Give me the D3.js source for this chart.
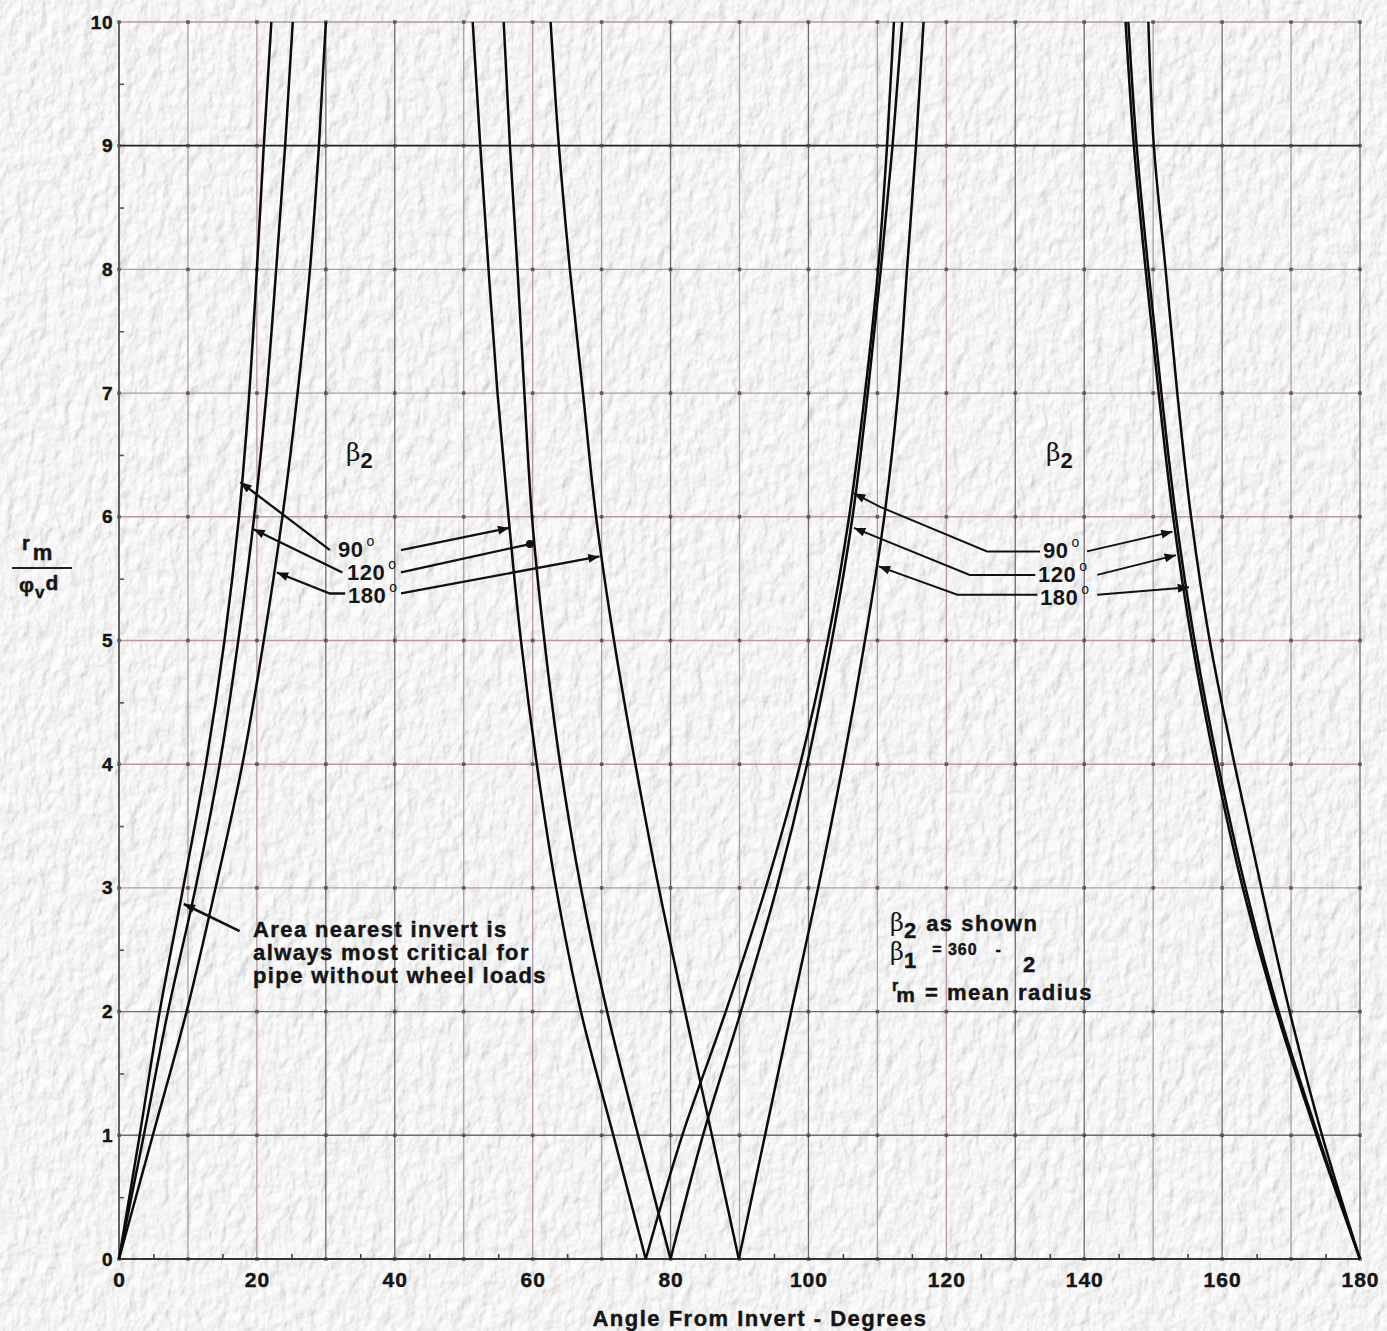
<!DOCTYPE html>
<html>
<head>
<meta charset="utf-8">
<script src="https://cdnjs.cloudflare.com/ajax/libs/d3/7.8.5/d3.min.js"></script>
<style>
body{margin:0;background:#ececec;}
#canvas{width:1387px;height:1331px;}
text{font-family:"Liberation Sans",Arial,Helvetica,sans-serif;fill:#151515;}
.bold{font-weight:bold;stroke:#151515;stroke-width:0.45px;}
</style>
</head>
<body>
<div id="canvas" class="canvas"></div>
<script>
// rm/(phi_v d) levels and the angle (deg) where each curve crosses them
var levels = [0,1,2,3,4,5,6,7,8,9,10];

// beta2 = 90, 120, 180 -- branch rising from the invert
var rise90  = [0, 3.0, 5.9, 9.3, 12.6, 15.3, 17.4, 18.9, 20.0, 21.0, 22.1];
var rise120 = [0, 3.6, 7.1, 11.1, 14.6, 17.3, 19.6, 21.4, 22.8, 24.1, 25.2];
var rise180 = [0, 4.9, 9.8, 14.0, 17.9, 21.0, 23.7, 25.9, 27.7, 29.0, 30.0];
// branch falling into the V
var fall90  = [76.4, 71.7, 67.0, 63.4, 60.6, 58.3, 56.5, 54.9, 53.6, 52.4, 51.3];
var fall120 = [80.0, 75.3, 70.8, 67.0, 64.0, 61.7, 59.9, 58.8, 57.8, 56.7, 55.8];
var fall180 = [89.9, 86.0, 82.1, 78.3, 74.9, 71.8, 69.2, 67.3, 65.4, 63.8, 62.6];
// branch rising out of the V
var back90  = [76.4, 81.7, 88.0, 93.8, 98.8, 102.8, 105.9, 108.2, 110.1, 111.4, 112.4];
var back120 = [80.0, 84.7, 90.2, 95.4, 99.8, 103.4, 106.4, 108.6, 110.5, 112.2, 113.6];
var back180 = [89.9, 93.7, 97.5, 101.4, 105.0, 108.2, 111.0, 113.0, 114.3, 115.6, 116.7];
// branch falling to the crown
var end90  = [180, 173.7, 167.9, 163.0, 159.0, 155.6, 152.9, 150.8, 148.9, 147.2, 146.0];
var end120 = [180, 173.9, 168.2, 163.4, 159.4, 156.0, 153.3, 151.2, 149.3, 147.6, 146.4];
var end180 = [180, 174.5, 169.8, 165.7, 161.8, 158.2, 155.5, 153.5, 151.8, 150.1, 149.3];

var xTicks = [0,20,40,60,80,100,120,140,160,180];
var yTicks = [0,1,2,3,4,5,6,7,8,9,10];
var bedding = ['90','120','180'];

// leader lines [angle, value] -- label end first, curve end last
var leadLeftIn  = [[[30.6,5.73],[17.6,6.28]], [[32.4,5.55],[19.5,5.90]], [[32.8,5.38],[30.6,5.38],[22.9,5.55]]];
var leadLeftOut = [[[40.9,5.73],[56.6,5.91]], [[40.9,5.55],[59.6,5.78]], [[40.9,5.38],[69.7,5.68]]];
var leadRightIn = [[[133.6,5.72],[125.9,5.72],[110.4,6.08],[106.6,6.19]], [[132.9,5.53],[123.4,5.53],[106.6,5.91]], [[133.2,5.37],[121.6,5.37],[110.2,5.60]]];
var leadRightOut = [[[140.4,5.72],[152.8,5.88]], [[141.9,5.53],[153.3,5.69]], [[141.9,5.37],[155.2,5.43]]];
var noteArrow = [[17.5,2.65],[9.4,2.87]];

var m = {t:22, r:27, b:72, l:119};
var W = 1387, H = 1331;
var w = W - m.l - m.r,
    h = H - m.t - m.b;

var svg = d3.select('.canvas').append('svg')
    .attr('width', W)
    .attr('height', H);

var defs = svg.append('defs');
var f = defs.append('filter').attr('id','paper')
    .attr('x',0).attr('y',0).attr('width','100%').attr('height','100%');
f.append('feTurbulence').attr('type','fractalNoise').attr('baseFrequency','0.09 0.06')
    .attr('numOctaves',3).attr('seed',4).attr('result','n');
f.append('feDiffuseLighting').attr('in','n').attr('surfaceScale',2.1)
    .attr('lighting-color','#ffffff')
    .append('feDistantLight').attr('azimuth',225).attr('elevation',65);

defs.append('marker').attr('id','arr')
    .attr('viewBox','0 0 10 8').attr('refX',10).attr('refY',4)
    .attr('markerWidth',12).attr('markerHeight',9)
    .attr('markerUnits','userSpaceOnUse').attr('orient','auto')
    .append('path').attr('d','M0,0L10,4L0,8Z').attr('fill','#111');

svg.append('rect').attr('width',W).attr('height',H)
    .attr('fill','#fff').attr('filter','url(#paper)');

var plot = svg.append('g')
    .attr('transform','translate(' + m.l + ',' + m.t + ')');

var x = d3.scaleLinear().domain([0,180]).range([0,w]);
var y = d3.scaleLinear().domain([0,10]).range([h,0]);

// grid
var darkX = [0,30,40,80,100,130,140,160,180];
plot.selectAll('.vgrid').data(d3.range(0,181,10)).enter().append('line')
    .attr('x1',function(d){return x(d);}).attr('x2',function(d){return x(d);})
    .attr('y1',0).attr('y2',h)
    .attr('stroke',function(d){return darkX.indexOf(d) >= 0 ? '#6f6a70' : '#b597a6';})
    .attr('stroke-width',1.3);

plot.selectAll('.hgrid').data(yTicks).enter().append('line')
    .attr('x1',0).attr('x2',w)
    .attr('y1',function(d){return y(d);}).attr('y2',function(d){return y(d);})
    .attr('stroke',function(d){
        if (d === 9) return '#222';
        if (d <= 2) return '#6f6a70';
        return '#b597a6';
    })
    .attr('stroke-width',function(d){return d === 9 ? 1.8 : 1.4;});

var cross = [];
d3.range(0,181,10).forEach(function(a){
    yTicks.forEach(function(v){ cross.push([a,v]); });
});
plot.selectAll('.dot').data(cross).enter().append('rect')
    .attr('x',function(d){return x(d[0]) - 1.8;})
    .attr('y',function(d){return y(d[1]) - 1.8;})
    .attr('width',3.6).attr('height',3.6)
    .attr('fill','#4a4448').attr('opacity',0.8);

// minor ticks
plot.append('g').attr('transform','translate(0,' + h + ')')
    .call(d3.axisBottom(x).tickValues(d3.range(5,180,10)).tickSize(-5).tickFormat(''))
    .call(function(g){g.select('.domain').remove(); g.selectAll('line').attr('stroke','#444').attr('stroke-width',1.6);});
plot.append('g')
    .call(d3.axisLeft(y).tickValues(d3.range(0.5,10,1)).tickSize(-5).tickFormat(''))
    .call(function(g){g.select('.domain').remove(); g.selectAll('line').attr('stroke','#555').attr('stroke-width',1.6);});

// frame
plot.append('line').attr('x1',0).attr('x2',w).attr('y1',h).attr('y2',h).attr('stroke','#333').attr('stroke-width',1.8);
plot.append('line').attr('x1',0).attr('x2',0).attr('y1',0).attr('y2',h).attr('stroke','#555').attr('stroke-width',1.6);

// axis labels
plot.append('g').attr('class','axis axis-x')
    .attr('transform','translate(0,' + h + ')')
    .call(d3.axisBottom(x).tickValues(xTicks).tickSize(0).tickPadding(13))
    .call(function(g){
        g.select('.domain').remove();
        g.selectAll('text').attr('class','bold').style('font-size','21px')
            .style('letter-spacing','1px')
            .style('font-family','"Liberation Sans",Arial,sans-serif').attr('fill','#151515');
    });
plot.append('g').attr('class','axis axis-y')
    .call(d3.axisLeft(y).tickValues(yTicks).tickSize(0).tickPadding(6))
    .call(function(g){
        g.select('.domain').remove();
        g.selectAll('text').attr('class','bold').style('font-size','19px')
            .style('letter-spacing','0.5px')
            .style('font-family','"Liberation Sans",Arial,sans-serif').attr('fill','#151515');
    });

svg.append('text').attr('class','bold').attr('x',760).attr('y',1326)
    .attr('text-anchor','middle').style('font-size','22px').style('letter-spacing','1.5px')
    .text('Angle From Invert - Degrees');

// y title as a fraction
var yt = svg.append('g');
yt.append('text').attr('class','bold').attr('x',22).attr('y',550).style('font-size','20px')
    .text('r').append('tspan').attr('dy',10).attr('dx',3).style('font-size','22px').text('m');
yt.append('line').attr('x1',12).attr('x2',72).attr('y1',568).attr('y2',568)
    .attr('stroke','#222').attr('stroke-width',1.8);
var yb = yt.append('text').attr('class','bold').attr('x',19).attr('y',592).style('font-size','21px');
yb.append('tspan').text('\u03c6');
yb.append('tspan').attr('dy',6).attr('dx',1).style('font-size','17px').text('v');
yb.append('tspan').attr('dy',-8).attr('dx',1).text('d');

// curves
var branches = [rise90, rise120, rise180, fall90, fall120, fall180,
                back90, back120, back180, end90, end120, end180];
var line = d3.line()
    .x(function(d){return x(d[0]);})
    .y(function(d){return y(d[1]);})
    .curve(d3.curveMonotoneY);

branches.forEach(function(b){
    var pts = levels.map(function(v,i){return [b[i], v];});
    plot.append('path').attr('d', line(pts))
        .attr('fill','none').attr('stroke','#0c0c0c')
        .attr('stroke-width',2.5).attr('stroke-linejoin','round');
});

// leaders
var lead = d3.line().x(function(d){return x(d[0]);}).y(function(d){return y(d[1]);});
function drawLeaders(list, arrow, width){
    list.forEach(function(p){
        plot.append('path').attr('d', lead(p)).attr('fill','none')
            .attr('stroke','#111').attr('stroke-width',width)
            .attr('marker-end', arrow ? 'url(#arr)' : null);
    });
}
drawLeaders(leadLeftIn, true, 2.3);
drawLeaders([leadLeftOut[0], leadLeftOut[2]], true, 2.3);
drawLeaders([leadLeftOut[1]], false, 2.3);
plot.append('circle').attr('cx',x(leadLeftOut[1][1][0])).attr('cy',y(leadLeftOut[1][1][1]))
    .attr('r',4).attr('fill','#111');
drawLeaders(leadRightIn, true, 1.9);
drawLeaders(leadRightOut, true, 1.9);
drawLeaders([noteArrow], true, 2.6);

// bedding labels
function degLabel(px, py, t){
    var tx = svg.append('text').attr('x',px).attr('y',py).style('font-size','22px')
        .style('font-weight','bold').style('letter-spacing','0.5px').text(t);
    tx.append('tspan').attr('dx',3).attr('dy',-11).style('font-size','14px')
        .style('font-weight','normal').text('o');
}
var leftPos = [[338,557],[347,580],[348,603]];
var rightPos = [[1043,558],[1038,582],[1040,605]];
bedding.forEach(function(t,i){
    degLabel(leftPos[i][0], leftPos[i][1], t);
    degLabel(rightPos[i][0], rightPos[i][1], t);
});

// beta2 labels
[[346,461],[1046,461]].forEach(function(p){
    var b = svg.append('text').attr('x',p[0]).attr('y',p[1]).style('font-size','25px')
        .style('font-family','"DejaVu Serif",serif').text('\u03b2');
    b.append('tspan').attr('dy',7).attr('dx',0).style('font-size','22px')
        .style('font-family','"Liberation Sans",Arial,sans-serif').style('font-weight','bold').text('2');
});

// notes
var note = svg.append('text').attr('class','bold').style('font-size','22px').style('letter-spacing','1.4px');
['Area nearest invert is','always most critical for','pipe without wheel loads'].forEach(function(s,i){
    note.append('tspan').attr('x',253).attr('y',937 + i*23).text(s);
});

var n2 = svg.append('g');
var t1 = n2.append('text').attr('x',890).attr('y',931).style('font-size','24px');
t1.append('tspan').style('font-family','"DejaVu Serif",serif').text('\u03b2');
t1.append('tspan').attr('class','bold').attr('dy',7).style('font-size','22px').text('2');
t1.append('tspan').attr('class','bold').attr('dy',-7).attr('dx',10).style('font-size','22px').style('letter-spacing','1.5px').text('as shown');
var t2 = n2.append('text').attr('x',890).attr('y',960).style('font-size','24px');
t2.append('tspan').style('font-family','"DejaVu Serif",serif').text('\u03b2');
t2.append('tspan').attr('class','bold').attr('dy',8).style('font-size','22px').text('1');
t2.append('tspan').attr('class','bold').attr('dy',-13).attr('dx',16).style('font-size','16px').style('letter-spacing','1px').text('= 360');
t2.append('tspan').attr('class','bold').attr('dx',18).style('font-size','16px').text('-');
t2.append('tspan').attr('class','bold').attr('dy',17).attr('dx',22).style('font-size','22px').text('2');
var t3 = n2.append('text').attr('class','bold').attr('x',892).attr('y',991).style('font-size','16px');
t3.append('tspan').text('r');
t3.append('tspan').attr('dy',11).attr('dx',-2).style('font-size','21px').text('m');
t3.append('tspan').attr('dy',-2).attr('dx',10).style('font-size','22px').style('letter-spacing','1.5px').text('= mean radius');
</script>
</body>
</html>
